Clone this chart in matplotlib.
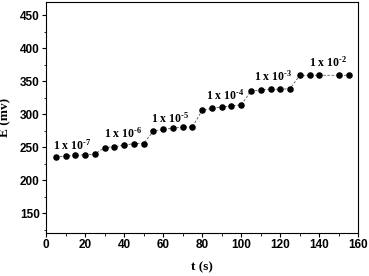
import numpy as np
import matplotlib.pyplot as plt
from matplotlib.ticker import MultipleLocator

# data
T_S = [5, 10, 15, 20, 25, 30, 35, 40, 45, 50, 55, 60, 65, 70, 75,
       80, 85, 90, 95, 100, 105, 110, 115, 120, 125, 130, 135, 140, 150, 155]
E_MV = [235.7, 236.7, 237.7, 238.7, 239.7, 249.7, 250.7, 253.5, 255.5, 255.7,
        274.7, 277.0, 279.0, 280.5, 281.0, 306.0, 308.8, 311.0, 312.8, 314.3,
        335.3, 336.8, 337.8, 337.8, 338.8, 358.9, 358.9, 359.0, 359.0, 359.0]

CONC_EXP = ["-7", "-6", "-5", "-4", "-3", "-2"]
LABEL_T = [13.5, 39.5, 63.5, 91.5, 116.5, 144.5]
LABEL_E = [253, 271, 294, 328, 357, 379]

SERIF = "Liberation Serif"
SANS = "Liberation Sans"

plt.rcParams["font.family"] = SANS
plt.rcParams["font.weight"] = "bold"
plt.rcParams["mathtext.fontset"] = "custom"
plt.rcParams["mathtext.rm"] = "Liberation Serif:bold"
plt.rcParams["mathtext.bf"] = "Liberation Serif:bold"
plt.rcParams["mathtext.it"] = "Liberation Serif:italic:bold"
plt.rcParams["mathtext.default"] = "rm"

fig = plt.figure(figsize=(3.69, 2.76), dpi=100)
ax = fig.add_axes([0.125, 0.155, 0.846, 0.838])

ax.plot(T_S, E_MV, color="#555555", linestyle=(0, (3, 2)), linewidth=0.6,
        marker="o", markersize=3.7, markerfacecolor="black", markeredgecolor="black")

# concentration labels; hyphen as superscript sign like the original
for exp, tx, ey in zip(CONC_EXP, LABEL_T, LABEL_E):
    ax.text(tx, ey, "1 x 10$^{\\mathrm{\u2010}" + exp[1:] + "}$", ha="center",
            va="center", fontsize=8.5, fontweight="bold", family=SERIF)

ax.set_xlim(0, 160)
ax.set_ylim(120, 470)
ax.xaxis.set_major_locator(MultipleLocator(20))
ax.xaxis.set_minor_locator(MultipleLocator(10))
ax.yaxis.set_major_locator(MultipleLocator(50))
ax.yaxis.set_minor_locator(MultipleLocator(25))
ax.set_yticks(np.arange(150, 451, 50))

ax.tick_params(which="major", direction="out", length=3, width=0.8,
               labelsize=8.5, pad=1.5)
ax.tick_params(which="minor", direction="out", length=1.8, width=0.6)
for sp in ax.spines.values():
    sp.set_linewidth(0.8)

ax.set_xlabel("t (s)", fontsize=9.5, fontweight="bold", family=SERIF, labelpad=7)
ax.set_ylabel("E (mv)", fontsize=9.5, fontweight="bold", family=SERIF, labelpad=6)

fig.savefig("out.png", dpi=100)
